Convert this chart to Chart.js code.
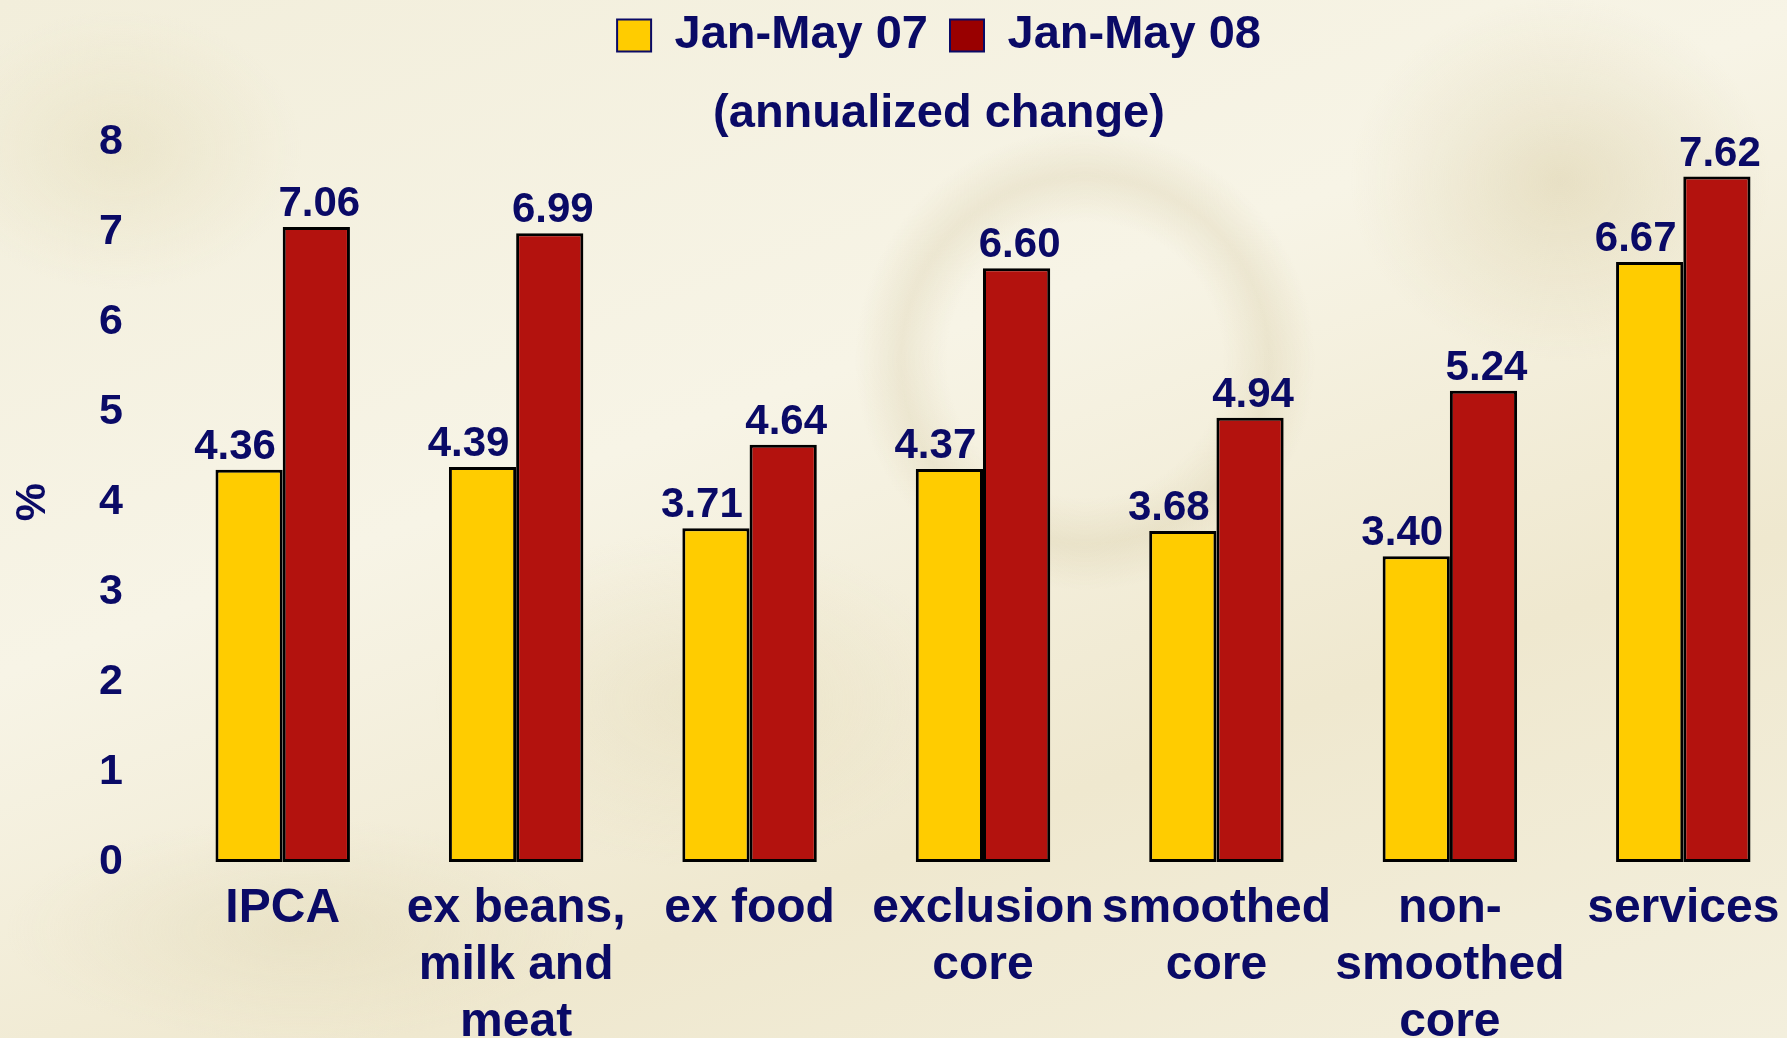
<!DOCTYPE html>
<html>
<head>
<meta charset="utf-8">
<script src="https://cdn.jsdelivr.net/npm/chart.js@4.4.0/dist/chart.umd.min.js"></script>
<style>
  html, body { margin: 0; padding: 0; overflow: hidden; }
  body {
    width: 1787px; height: 1038px;
    background:
      radial-gradient(circle 230px at 1085px 360px, rgba(200,186,140,0) 60%, rgba(200,186,140,0.22) 80%, rgba(200,186,140,0) 100%),
      radial-gradient(ellipse 300px 260px at 1560px 180px, rgba(205,190,140,0.35), rgba(205,190,140,0) 70%),
      radial-gradient(ellipse 380px 240px at 700px 700px, rgba(220,208,165,0.30), rgba(220,208,165,0) 70%),
      radial-gradient(ellipse 420px 160px at 300px 930px, rgba(215,205,165,0.30), rgba(215,205,165,0) 70%),
      radial-gradient(ellipse 260px 200px at 120px 150px, rgba(222,212,170,0.35), rgba(222,212,170,0) 70%),
      linear-gradient(160deg, #f2eedb 0%, #f7f4e6 40%, #efe8cf 70%, #f3efdd 100%);
  }
  #wrap { position: absolute; left: 0; top: 0; width: 1878px; height: 1038px; }
</style>
</head>
<body>
<div id="wrap"><canvas id="inflChart"></canvas></div>
<script>
const categories = [
  ['IPCA'],
  ['ex beans,', 'milk and', 'meat'],
  ['ex food'],
  ['exclusion', 'core'],
  ['smoothed', 'core'],
  ['non-', 'smoothed', 'core'],
  ['services']
];
const jan07 = [4.36, 4.39, 3.71, 4.37, 3.68, 3.40, 6.67];
const jan08 = [7.06, 6.99, 4.64, 6.60, 4.94, 5.24, 7.62];
const yTicks = [0, 1, 2, 3, 4, 5, 6, 7, 8];

const navy = '#0a0a66';
const arial = "'Liberation Sans', Arial, sans-serif";

// value printed above every bar
const valueLabels = {
  id: 'valueLabels',
  afterDatasetsDraw(chart) {
    const ctx = chart.ctx;
    const shift = [-14, 3];
    ctx.save();
    ctx.font = 'bold 42px ' + arial;
    ctx.fillStyle = navy;
    ctx.textAlign = 'center';
    ctx.textBaseline = 'alphabetic';
    chart.data.datasets.forEach((ds, i) => {
      chart.getDatasetMeta(i).data.forEach((bar, j) => {
        ctx.fillText(ds.data[j].toFixed(2), bar.x + shift[i], bar.y - 11);
      });
    });
    ctx.restore();
  }
};

// legend + subtitle sit a bit right of the plot's centre in the original
const headerShift = {
  id: 'headerShift',
  afterLayout(chart) {
    [chart.legend, chart.titleBlock].forEach(b => {
      if (b) { b.left += 39; b.right += 39; }
    });
  }
};

new Chart(document.getElementById('inflChart'), {
  type: 'bar',
  data: {
    labels: categories,
    datasets: [
      { label: 'Jan-May 07', data: jan07, backgroundColor: '#ffcc00', borderColor: '#000', borderWidth: 3, borderSkipped: false },
      { label: 'Jan-May 08', data: jan08, backgroundColor: '#b3120e', borderColor: '#000', borderWidth: 3, borderSkipped: false }
    ]
  },
  options: {
    responsive: true,
    maintainAspectRatio: false,
    animation: false,
    layout: { padding: { left: 0, right: 78, top: -10, bottom: 0 } },
    datasets: { bar: { categoryPercentage: 0.576, barPercentage: 1 } },
    plugins: {
      legend: {
        position: 'top',
        weight: 3000,
        labels: {
          font: { family: arial, size: 47, weight: 'bold' },
          color: navy,
          boxWidth: 34,
          boxHeight: 32,
          padding: 22,
          generateLabels(chart) {
            const items = Chart.defaults.plugins.legend.labels.generateLabels(chart);
            items.forEach((it, i) => {
              it.lineWidth = 2;
              it.strokeStyle = navy;
              if (i === 1) it.fillStyle = '#990000';
            });
            return items;
          }
        }
      },
      title: {
        display: true,
        text: '(annualized change)',
        weight: 500,
        color: navy,
        font: { family: arial, size: 47, weight: 'bold' },
        padding: { top: 17, bottom: 0 }
      },
      tooltip: { enabled: false }
    },
    scales: {
      x: {
        grid: { display: false, drawTicks: false },
        border: { display: false },
        afterFit(scale) { scale.height = 176; },
        ticks: {
          color: navy,
          font: { family: arial, size: 48, weight: 'bold', lineHeight: 1.19 },
          padding: 18,
          maxRotation: 0,
          autoSkip: false
        }
      },
      y: {
        min: 0,
        max: 8,
        grid: { display: false, drawTicks: false },
        border: { display: false },
        afterFit(scale) { scale.width = 166; },
        afterBuildTicks(scale) { scale.ticks = yTicks.map(v => ({ value: v })); },
        ticks: {
          color: navy,
          font: { family: arial, size: 43, weight: 'bold' },
          padding: 43
        },
        title: {
          display: true,
          text: '%',
          color: navy,
          font: { family: arial, size: 43, weight: 'bold' },
          padding: 7
        }
      }
    }
  },
  plugins: [valueLabels, headerShift]
});
</script>
</body>
</html>
